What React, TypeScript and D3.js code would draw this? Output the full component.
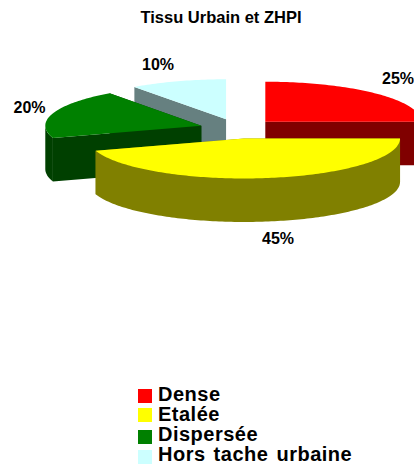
import React from "react";
import * as d3 from "d3";

const categories = ["Dense", "Etalée", "Dispersée", "Hors tache urbaine"];
const values = [25, 45, 20, 10];
const topColors = ["#ff0000", "#ffff00", "#008000", "#ccffff"];
const sideColors = ["#800000", "#808000", "#004000", "#668080"];
const labelPos = [[398, 84], [278, 243.5], [29.5, 113], [158, 70]];
const legendSwatchY = [389, 408, 430, 450];
const legendBaseY = [401, 420.5, 441, 461];

const W = 414, H = 465;
const cx = 238, cy = 128.7, rx = 156, ry = 40, depth = 43.5, explode = 38.6;
const drawOrder = [3, 0, 2, 1];

const pieGen = d3.pie<number>().sort(null).startAngle(0).endAngle(2 * Math.PI);
const arcs = pieGen(values);

const pt = (a: number, r: number, ox: number, oy: number, dz = 0): [number, number] => [
  ox + rx * r * Math.sin(a),
  oy - ry * r * Math.cos(a) + dz,
];
const line = d3.line();

function arcPoints(a0: number, a1: number, ox: number, oy: number, dz = 0) {
  const n = Math.max(2, Math.ceil((a1 - a0) / 0.02));
  return d3.range(n + 1).map((i) => pt(a0 + ((a1 - a0) * i) / n, 1, ox, oy, dz));
}

function Slice({ i }: { i: number }) {
  const { startAngle: a0, endAngle: a1 } = arcs[i];
  const mid = (a0 + a1) / 2;
  const ox = cx + explode * Math.sin(mid);
  const oy = cy - explode * (ry / rx) * Math.cos(mid);
  const radial = (a: number) =>
    line([[ox, oy], pt(a, 1, ox, oy), pt(a, 1, ox, oy, depth), [ox, oy + depth]])! + "Z";
  const w0 = Math.max(a0, Math.PI / 2);
  const w1 = Math.min(a1, (3 * Math.PI) / 2);
  const wall =
    w1 > w0
      ? line([...arcPoints(w0, w1, ox, oy), ...arcPoints(w0, w1, ox, oy, depth).reverse()])! + "Z"
      : null;
  const top = line([[ox, oy], ...arcPoints(a0, a1, ox, oy)])! + "Z";
  return (
    <g>
      <path d={radial(a0)} fill={sideColors[i]} />
      <path d={radial(a1)} fill={sideColors[i]} />
      {wall && <path d={wall} fill={sideColors[i]} />}
      <path d={top} fill={topColors[i]} />
    </g>
  );
}

export default function App() {
  const font = "'Liberation Sans', Arial, sans-serif";
  return (
    <svg width={W} height={H} style={{ position: "fixed", left: 0, top: 0, background: "#fff" }} fontFamily={font} fontWeight="bold" fill="#000">
      <text x={221} y={22.5} textAnchor="middle" fontSize={16.5}>Tissu Urbain et ZHPI</text>
      {drawOrder.map((i) => <Slice key={i} i={i} />)}
      {values.map((v, i) => (
        <text key={i} x={labelPos[i][0]} y={labelPos[i][1]} textAnchor="middle" fontSize={16}>{v}%</text>
      ))}
      {categories.map((c, i) => (
        <g key={c}>
          <rect x={138} y={legendSwatchY[i]} width={14} height={14} fill={topColors[i]} />
          <text x={158} y={legendBaseY[i]} fontSize={20} letterSpacing={0.5} wordSpacing={2}>{c}</text>
        </g>
      ))}
    </svg>
  );
}
